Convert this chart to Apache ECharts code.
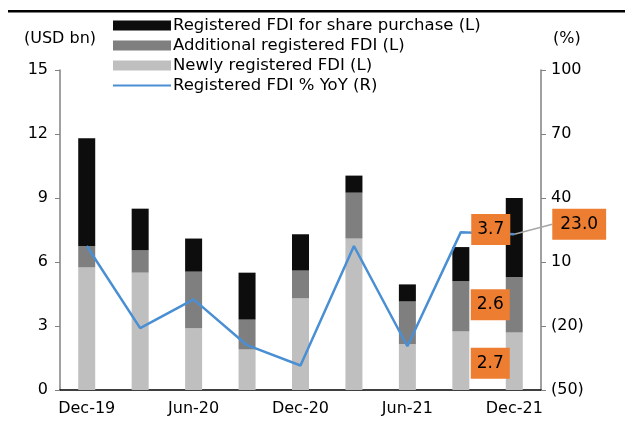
<!DOCTYPE html>
<html><head><meta charset="utf-8">
<script src="https://cdn.jsdelivr.net/npm/echarts@6/dist/echarts.min.js"></script>
<style>html,body{margin:0;padding:0;background:#fff}#c{width:625px;height:426px}</style>
</head><body><div id="c"></div>
<script>
const categories = ['Dec-19','Mar-20','Jun-20','Sep-20','Dec-20','Mar-21','Jun-21','Sep-21','Dec-21'];
const newlyFDI = [5.75, 5.5, 2.9, 1.9, 4.3, 7.1, 2.15, 2.75, 2.7];
const additionalFDI = [1.0, 1.05, 2.65, 1.4, 1.3, 2.15, 2.0, 2.35, 2.6];
const sharePurchaseFDI = [5.05, 1.95, 1.55, 2.2, 1.7, 0.8, 0.8, 1.6, 3.7];
const yoy = [17.5, -21, -7.5, -29, -38.5, 17.5, -29.5, 24, 23.0];
const leftTicks = {min: 0, max: 15, interval: 3};
const rightTicks = {min: -50, max: 100, interval: 30};

const FONT = 'DejaVu Sans';
const ORANGE = '#ED7D31';
const last = categories.length - 1;
const boxLabel = {
  show: true, position: 'left', distance: -4,
  backgroundColor: ORANGE, color: '#000', fontFamily: FONT, fontSize: 17,
  padding: [8, 6, 6, 6], formatter: p => Number(p.value).toFixed(1)
};
function withLastLabel(arr, extra) {
  return arr.map((v, i) => i === last ? {value: v, label: Object.assign({}, boxLabel, extra || {})} : v);
}
const chart = echarts.init(document.getElementById('c'));
chart.setOption({
  animation: false,
  textStyle: {fontFamily: FONT},
  grid: {left: 60, right: 84, top: 70, bottom: 36},
  graphic: [{type: 'rect', shape: {x: 8, y: 10, width: 617, height: 2.5}, style: {fill: '#000'}}],
  legend: {
    orient: 'vertical', left: 112, top: 17, padding: 0, itemGap: 3, itemWidth: 58, itemHeight: 10,
    textStyle: {fontFamily: FONT, fontSize: 16.5, color: '#000', padding: [0, 0, 0, -3]},
    data: [
      {name: 'Registered FDI for share purchase (L)', icon: 'rect'},
      {name: 'Additional registered FDI (L)', icon: 'rect'},
      {name: 'Newly registered FDI (L)', icon: 'rect'},
      {name: 'Registered FDI % YoY (R)', itemStyle: {color: 'rgba(0,0,0,0)', borderWidth: 0, opacity: 0}}
    ]
  },
  xAxis: {
    type: 'category', data: categories,
    axisLine: {lineStyle: {color: '#000', width: 1.5}},
    axisTick: {show: false},
    axisLabel: {interval: 1, color: '#000', fontSize: 16, margin: 11, fontFamily: FONT}
  },
  yAxis: [{
    type: 'value', min: leftTicks.min, max: leftTicks.max, interval: leftTicks.interval,
    name: '(USD bn)', nameGap: 23, nameTextStyle: {color: '#000', fontSize: 16, fontFamily: FONT},
    axisLine: {show: true, lineStyle: {color: '#808080', width: 1.5}},
    axisTick: {show: true, length: 5, lineStyle: {color: '#808080'}},
    splitLine: {show: false},
    axisLabel: {color: '#000', fontSize: 16, margin: 12, fontFamily: FONT}
  }, {
    type: 'value', min: rightTicks.min, max: rightTicks.max, interval: rightTicks.interval,
    name: '(%)', nameGap: 23, nameTextStyle: {color: '#000', fontSize: 16, fontFamily: FONT, align: 'left', padding: [0, 0, 0, 12]},
    axisLine: {show: true, lineStyle: {color: '#808080', width: 1.5}},
    axisTick: {show: true, length: 5, lineStyle: {color: '#808080'}},
    splitLine: {show: false},
    axisLabel: {color: '#000', fontSize: 16, margin: 10, fontFamily: FONT,
      formatter: v => v < 0 ? '(' + Math.abs(v) + ')' : String(v)}
  }],
  series: [
    {name: 'Newly registered FDI (L)', type: 'bar', stack: 'fdi', barWidth: 17,
      itemStyle: {color: '#BFBFBF'}, data: withLastLabel(newlyFDI, {offset: [0, 2]})},
    {name: 'Additional registered FDI (L)', type: 'bar', stack: 'fdi', barWidth: 17,
      itemStyle: {color: '#7F7F7F'}, data: withLastLabel(additionalFDI)},
    {name: 'Registered FDI for share purchase (L)', type: 'bar', stack: 'fdi', barWidth: 17,
      itemStyle: {color: '#0D0D0D'}, data: sharePurchaseFDI,
      markPoint: {
        symbol: 'circle', symbolSize: 0, z: 10, silent: true,
        label: Object.assign({}, boxLabel, {position: 'left', distance: 4, offset: [0, -8]}),
        data: [{coord: [categories[last], newlyFDI[last] + additionalFDI[last] + sharePurchaseFDI[last] / 2],
          value: sharePurchaseFDI[last]}]
      }},
    {name: 'Registered FDI % YoY (R)', type: 'line', yAxisIndex: 1, symbol: 'circle', symbolSize: 0,
      showSymbol: true,
      lineStyle: {color: '#4A8FD3', width: 2.5}, itemStyle: {color: '#4A8FD3'},
      labelLine: {show: true, lineStyle: {color: '#A6A6A6', width: 1.5}},
      labelLayout: p => p.dataIndex === last ? {dx: 38, dy: -10} : {},
      data: yoy.map((v, i) => i === last ? {value: v,
        label: Object.assign({}, boxLabel, {position: 'right', distance: 0, padding: [8, 8, 6, 8]})} : v)
    }
  ]
});
</script></body></html>
